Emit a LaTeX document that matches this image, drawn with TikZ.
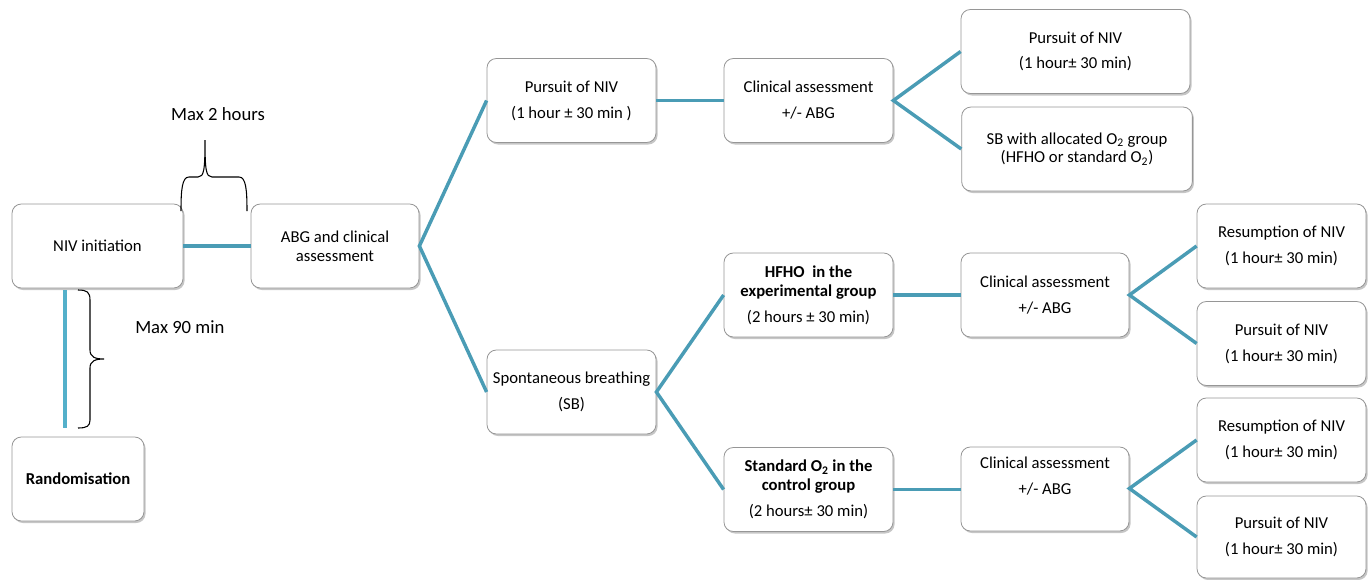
\documentclass[tikz,border=0pt]{standalone}
\usepackage{fontspec}
\setmainfont{Carlito}
\usetikzlibrary{shadows}
\definecolor{linkteal}{RGB}{74,156,181}
\definecolor{linkcyan}{RGB}{84,176,202}
\definecolor{boxgray}{RGB}{150,150,150}
\newcommand{\boxfont}{\fontsize{12.5}{14}\selectfont}
\newcommand{\notefont}{\fontsize{14}{16}\selectfont}
\tikzset{
  box/.style={rectangle, rounded corners=7pt, draw=boxgray, line width=0.6pt, fill=white, minimum width=126.75pt, minimum height=63pt, text centered, align=center, inner sep=2pt, font=\boxfont, drop shadow={shadow xshift=1.2pt, shadow yshift=-1.5pt, opacity=0.45, fill=black!50}},
  widebox/.style={box, minimum width=173pt},
  link/.style={draw=linkteal, line width=2.6pt},
  bracket/.style={draw=black, line width=0.8pt},
  note/.style={font=\notefont}
}

\begin{document}
\begin{tikzpicture}[x=0.75pt, y=-0.75pt]
\useasboundingbox (0,0) rectangle (1370,579);

% start of the protocol
\node[box, minimum width=128.25pt] (niv) at (97.5,246) {NIV initiation};
\node[box, minimum width=126pt] (abg) at (335,246) {ABG and clinical\\assessment};
\node[box, minimum width=99pt, font=\boxfont\bfseries] (rand) at (78,479) {Randomisation};

% pursuit branch
\node[box] (pursuitA) at (571.5,100.5) {Pursuit of NIV\\[5.5pt](1 hour ± 30 min )};
\node[box] (clinA) at (808.5,100.5) {Clinical assessment\\[5.5pt]+/- ABG};
\node[widebox, minimum width=171.75pt] (pursuitB) at (1075.5,51.5) {Pursuit of NIV\\[5pt](1 hour± 30 min)};
\node[widebox] (sbOtwo) at (1077,149) {SB with allocated O\textsubscript{2} group\\(HFHO or standard O\textsubscript{2})};

% spontaneous breathing branch
\node[box] (sb) at (571.5,392) {Spontaneous breathing\\[5.5pt](SB)};
\node[box] (hfho) at (808.5,295) {\textbf{HFHO\ \ in the}\\\textbf{experimental group}\\[5.5pt](2 hours ± 30 min)};
\node[box, minimum width=126pt] (clinB) at (1045,295) {Clinical assessment\\[5.5pt]+/- ABG};
\node[box] (resumeB) at (1281.5,246) {Resumption of NIV\\[6pt](1 hour± 30 min)};
\node[box] (pursuitC) at (1281.5,343.5) {Pursuit of NIV\\[5.5pt](1 hour± 30 min)};

\node[box] (stdOtwo) at (808.5,489.5) {\textbf{Standard O\textsubscript{2} in the}\\\textbf{control group}\\[5.5pt](2 hours± 30 min)};
\node[box, minimum width=126pt] (clinC) at (1045,489) {Clinical assessment\\[5.5pt]+/- ABG\\[5.5pt]\mbox{}};
\node[box] (resumeC) at (1281.5,440) {Resumption of NIV\\[5.5pt](1 hour± 30 min)};
\node[box, minimum height=61.5pt] (pursuitD) at (1281.5,537) {Pursuit of NIV\\[5.5pt](1 hour± 30 min)};

% connectors
\coordinate (vtop) at (65,290);
\coordinate (vbot) at (65,428);
\draw[link, draw=linkcyan] (vtop) -- (vbot);
\draw[link] (niv) -- (abg);
\draw[link] (pursuitA.west) -- (abg.east) -- (sb.west);
\draw[link] (pursuitA) -- (clinA);
\draw[link] (pursuitB.west) -- (clinA.east) -- (sbOtwo.west);
\draw[link] (hfho.west) -- (sb.east) -- (stdOtwo.west);
\draw[link] (hfho) -- (clinB);
\draw[link] (stdOtwo) -- (clinC.west |- stdOtwo);
\draw[link] (resumeB.west) -- (clinB.east) -- (pursuitC.west);
\draw[link] (resumeC.west) -- ([yshift=0.4pt]clinC.east) -- (pursuitD.west);

% time limits
\draw[bracket] (181,211) .. controls (181,190) and (182,177) .. (189,177) -- (198,177)
  .. controls (204,177) and (205,170) .. (205,140)
  .. controls (205,170) and (206,177) .. (212,177) -- (239,177)
  .. controls (246,177) and (247,190) .. (247,211);
\node[note] (maxtwo) at (218,114) {Max 2 hours};
\draw[bracket] (78,290) .. controls (87,290) and (90,292) .. (90,300) -- (90,350)
  .. controls (90,357) and (95,359) .. (104,359)
  .. controls (95,359) and (90,361) .. (90,368) -- (90,420)
  .. controls (90,426) and (87,428) .. (78,428);
\node[note, anchor=west, inner sep=0pt] (maxninety) at (135,327) {Max 90 min};
\end{tikzpicture}
\end{document}
